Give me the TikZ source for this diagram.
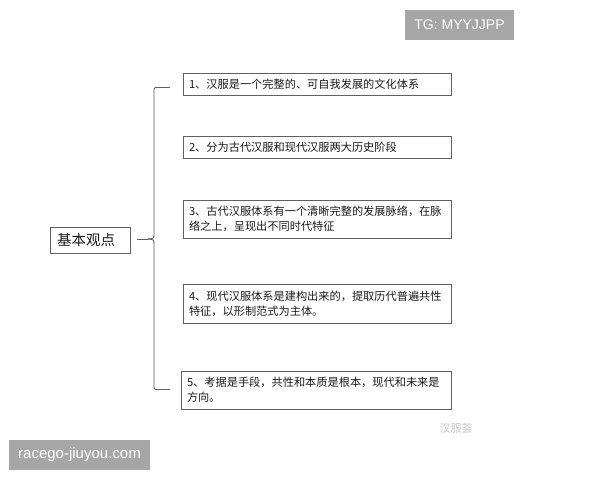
\documentclass[tikz,border=0pt]{standalone}
\usepackage{fontspec}
\setmainfont{Noto Sans CJK SC}
\newfontfamily\latinfont{Liberation Sans}
\definecolor{boxline}{HTML}{606060}
\definecolor{txt}{HTML}{1A1A1A}
\definecolor{tag}{HTML}{A6A6A6}
\tikzset{
  item/.style={draw=boxline, line width=0.9pt, text=txt, inner xsep=6pt, inner ysep=2pt,
    text width=256pt, align=left, font=\fontsize{11.2}{15}\selectfont},
  mainbox/.style={draw=boxline, line width=0.9pt, text=txt, inner xsep=7pt, inner ysep=0pt,
    text width=66pt, minimum height=26pt, align=left, font=\fontsize{14.5}{16}\selectfont},
  tagbox/.style={fill=tag, text=white, inner sep=0pt, font=\latinfont},
  brace/.style={draw=boxline, line width=0.9pt}
}
\begin{document}
\begin{tikzpicture}[x=1pt,y=-1pt]
\useasboundingbox (0,0) rectangle (600,480);
\fill[white] (0,0) rectangle (600,480);
% tags
\node[tagbox, minimum width=109pt, minimum height=30pt, font=\latinfont\fontsize{14}{16}\selectfont] (tg) at (459.5,25) {TG: MYYJJPP};
\node[tagbox, minimum width=141pt, minimum height=30pt, font=\latinfont\fontsize{15}{17}\selectfont] (site) at (79.5,455) {racego-jiuyou.com};
% main node
\node[mainbox] (main) at (90,240) {基本观点};
% items
\node[item, minimum height=22pt] (b1) at (317,84) {1、汉服是一个完整的、可自我发展的文化体系};
\node[item, minimum height=22pt] (b2) at (317,147) {2、分为古代汉服和现代汉服两大历史阶段};
\node[item, minimum height=38pt] (b3) at (317,219) {3、古代汉服体系有一个清晰完整的发展脉络，在脉\\络之上，呈现出不同时代特征};
\node[item, minimum height=39pt] (b4) at (317,303.5) {4、现代汉服体系是建构出来的，提取历代普遍共性\\特征，以形制范式为主体。};
\node[item, minimum height=38pt, text width=258pt] (b5) at (316,390) {5、考据是手段，共性和本质是根本，现代和未来是\\方向。};
% watermark
\node[text=black!22, font=\fontsize{11}{12}\selectfont, inner sep=0pt] (wm) at (456,428) {汉服荟};
% brace
\coordinate (top) at (170,87.5);
\coordinate (bot) at (170,389.5);
\coordinate (tip) at (148,239);
\coordinate (tail) at (137,239);
\draw[brace] (top) -- (158,87.5) .. controls (154,87.5) .. (154,91.5) -- (154,233) .. controls (154,238.5) .. (tip);
\draw[brace] (bot) -- (158,389.5) .. controls (154,389.5) .. (154,385.5) -- (154,245) .. controls (154,239.5) .. (tip);
\draw[brace] (tail) -- (tip);
\end{tikzpicture}
\end{document}
